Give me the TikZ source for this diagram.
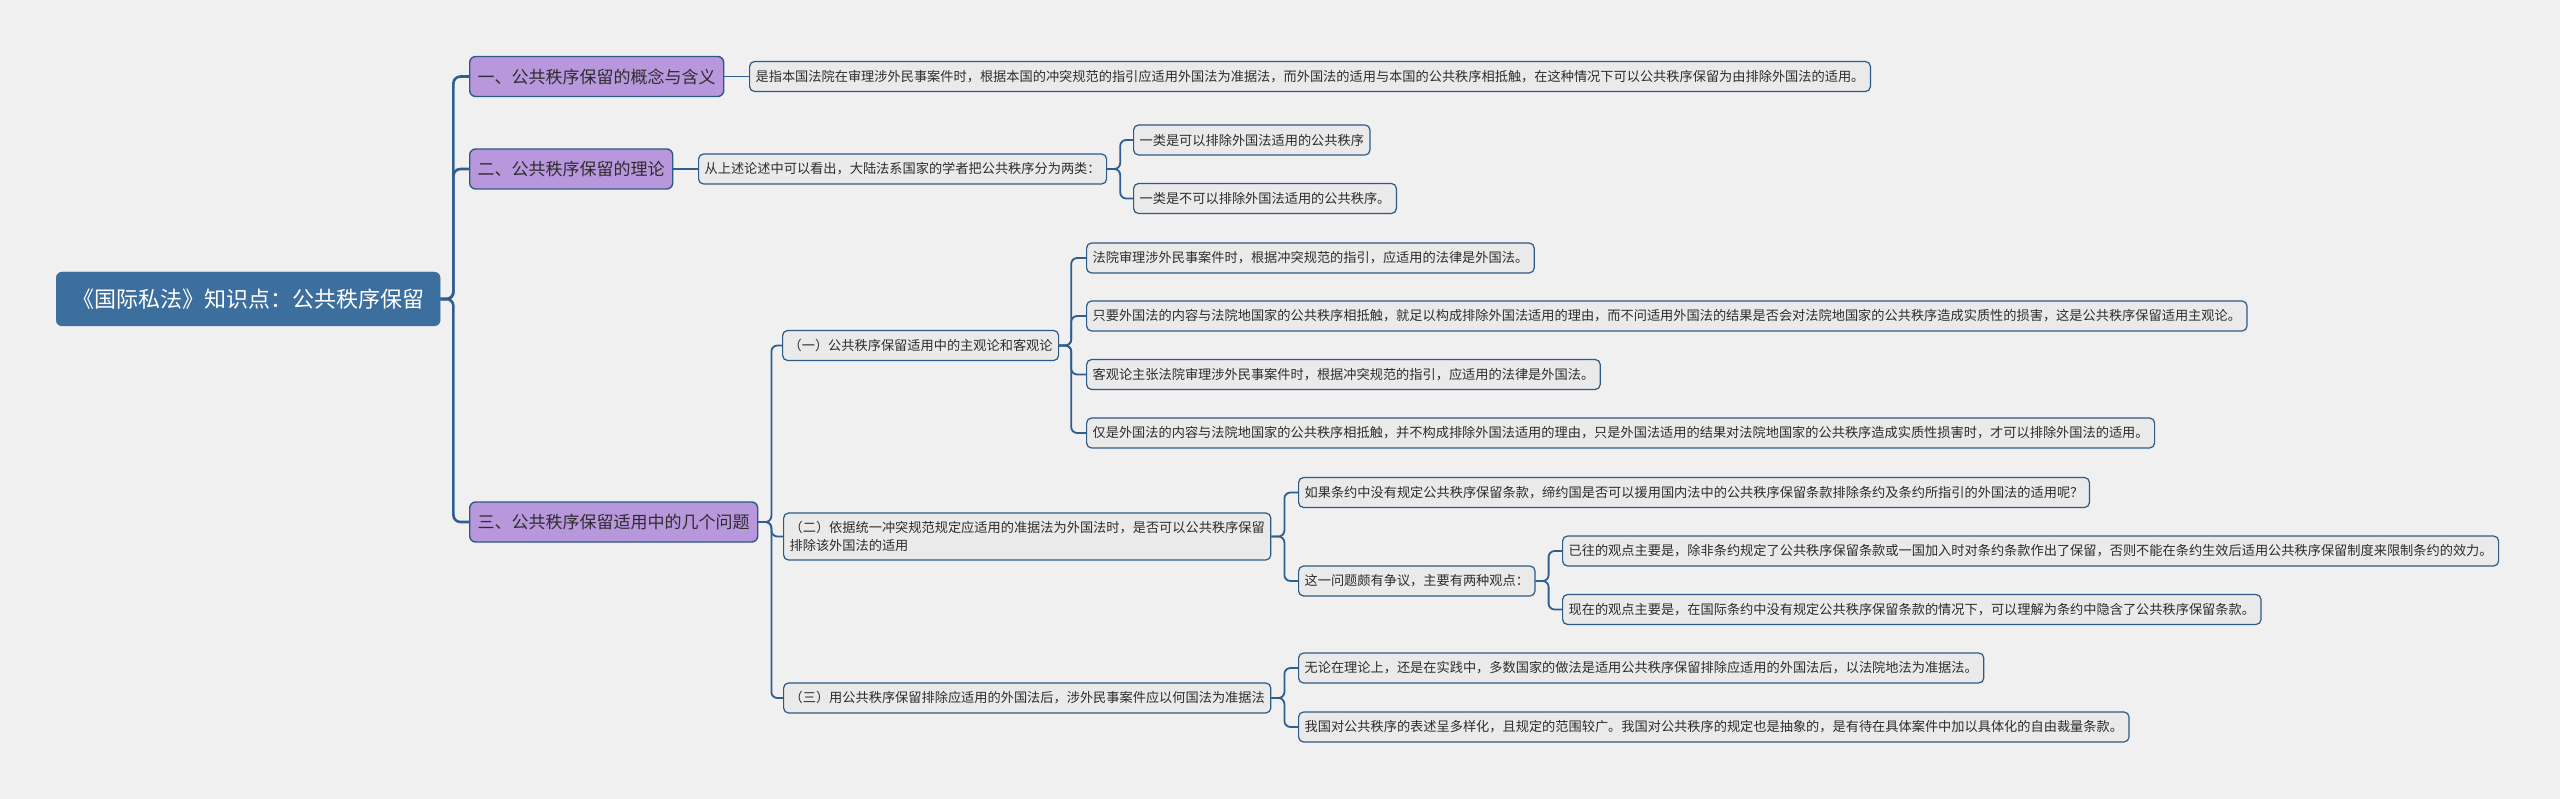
\documentclass[tikz,border=0pt]{standalone}
\usepackage{fontspec}
\newfontfamily\cjk{Noto Sans CJK SC}
\usepackage{xcolor}
\definecolor{paper}{RGB}{240,240,240}
\definecolor{rootblue}{RGB}{60,110,158}
\definecolor{linkblue}{RGB}{47,95,143}
\definecolor{edgeblue}{RGB}{45,90,133}
\definecolor{lilac}{RGB}{184,151,220}
\definecolor{leafgrey}{RGB}{234,234,234}
\definecolor{inkgrey}{RGB}{45,45,45}

\tikzset{
  rootbox/.style={fill=rootblue, draw=rootblue, rounded corners=6, text=white,
    anchor=west, minimum height=54, inner xsep=16,
    font=\cjk\fontsize{22}{26}\selectfont},
  topic/.style={fill=lilac, draw=edgeblue, line width=1.4, rounded corners=6,
    text=inkgrey, anchor=west, minimum height=40, inner xsep=8,
    font=\cjk\fontsize{17}{20}\selectfont},
  leaf/.style={fill=leafgrey, draw=edgeblue, line width=1.2, rounded corners=5,
    text=inkgrey, anchor=west, minimum height=30, inner xsep=6, align=left,
    font=\cjk\fontsize{13.2}{18}\selectfont},
  mainlink/.style={draw=linkblue, line width=2.6, rounded corners=7},
  link/.style={draw=linkblue, line width=1.8, rounded corners=6},
}

\begin{document}
\begin{tikzpicture}[x=1pt, y=-1pt]
  % Background
  \fill[paper] (0,0) rectangle (2560,799);

  % Root
  \node[rootbox] (root) at (56,299) {《国际私法》知识点：公共秩序保留};

  % Main topics
  \node[topic] (concept) at (469,76.5) {一、公共秩序保留的概念与含义};
  \node[topic] (theory) at (469,169) {二、公共秩序保留的理论};
  \node[topic] (issues) at (469,522) {三、公共秩序保留适用中的几个问题};

  % Topic one
  \node[leaf] (meaning) at (749,76.5) {是指本国法院在审理涉外民事案件时，根据本国的冲突规范的指引应适用外国法为准据法，而外国法的适用与本国的公共秩序相抵触，在这种情况下可以公共秩序保留为由排除外国法的适用。};

  % Topic two
  \node[leaf] (twokinds) at (698,169) {从上述论述中可以看出，大陆法系国家的学者把公共秩序分为两类：};
  \node[leaf] (kindA) at (1133,140) {一类是可以排除外国法适用的公共秩序};
  \node[leaf] (kindB) at (1133,198.5) {一类是不可以排除外国法适用的公共秩序。};

  % Topic three
  \node[leaf] (subjobj) at (782,345.5) {（一）公共秩序保留适用中的主观论和客观论};
  \node[leaf] (sub1) at (1086,258) {法院审理涉外民事案件时，根据冲突规范的指引，应适用的法律是外国法。};
  \node[leaf] (sub2) at (1086,316) {只要外国法的内容与法院地国家的公共秩序相抵触，就足以构成排除外国法适用的理由，而不问适用外国法的结果是否会对法院地国家的公共秩序造成实质性的损害，这是公共秩序保留适用主观论。};
  \node[leaf] (obj1) at (1086,374.5) {客观论主张法院审理涉外民事案件时，根据冲突规范的指引，应适用的法律是外国法。};
  \node[leaf] (obj2) at (1086,433) {仅是外国法的内容与法院地国家的公共秩序相抵触，并不构成排除外国法适用的理由，只是外国法适用的结果对法院地国家的公共秩序造成实质性损害时，才可以排除外国法的适用。};

  \node[leaf, minimum height=47] (treaty) at (783,536.5) {（二）依据统一冲突规范规定应适用的准据法为外国法时，是否可以公共秩序保留\\排除该外国法的适用};
  \node[leaf] (question) at (1298,492.5) {如果条约中没有规定公共秩序保留条款，缔约国是否可以援用国内法中的公共秩序保留条款排除条约及条约所指引的外国法的适用呢？};
  \node[leaf] (dispute) at (1298,581) {这一问题颇有争议，主要有两种观点：};
  \node[leaf] (oldview) at (1562,551) {已往的观点主要是，除非条约规定了公共秩序保留条款或一国加入时对条约条款作出了保留，否则不能在条约生效后适用公共秩序保留制度来限制条约的效力。};
  \node[leaf] (newview) at (1562,609.5) {现在的观点主要是，在国际条约中没有规定公共秩序保留条款的情况下，可以理解为条约中隐含了公共秩序保留条款。};

  \node[leaf] (afterward) at (783,698) {（三）用公共秩序保留排除应适用的外国法后，涉外民事案件应以何国法为准据法};
  \node[leaf] (practice) at (1298,668) {无论在理论上，还是在实践中，多数国家的做法是适用公共秩序保留排除应适用的外国法后，以法院地法为准据法。};
  \node[leaf] (china) at (1298,727) {我国对公共秩序的表述呈多样化，且规定的范围较广。我国对公共秩序的规定也是抽象的，是有待在具体案件中加以具体化的自由裁量条款。};

  % Connectors
  \foreach \kid in {concept,theory,issues}
    \draw[mainlink] (root.east) -- ++(13,0) |- (\kid.west);
  \draw[link] (concept.east) -- (meaning.west);
  \draw[link] (theory.east) -- (twokinds.west);
  \foreach \kid in {kindA,kindB}
    \draw[link] (twokinds.east) -- ++(13,0) |- (\kid.west);
  \foreach \kid in {subjobj,treaty,afterward}
    \draw[link] (issues.east) -- ++(13,0) |- (\kid.west);
  \foreach \kid in {sub1,sub2,obj1,obj2}
    \draw[link] (subjobj.east) -- ++(12,0) |- (\kid.west);
  \foreach \kid in {question,dispute}
    \draw[link] (treaty.east) -- ++(13,0) |- (\kid.west);
  \foreach \kid in {oldview,newview}
    \draw[link] (dispute.east) -- ++(13,0) |- (\kid.west);
  \foreach \kid in {practice,china}
    \draw[link] (afterward.east) -- ++(13,0) |- (\kid.west);
\end{tikzpicture}
\end{document}
